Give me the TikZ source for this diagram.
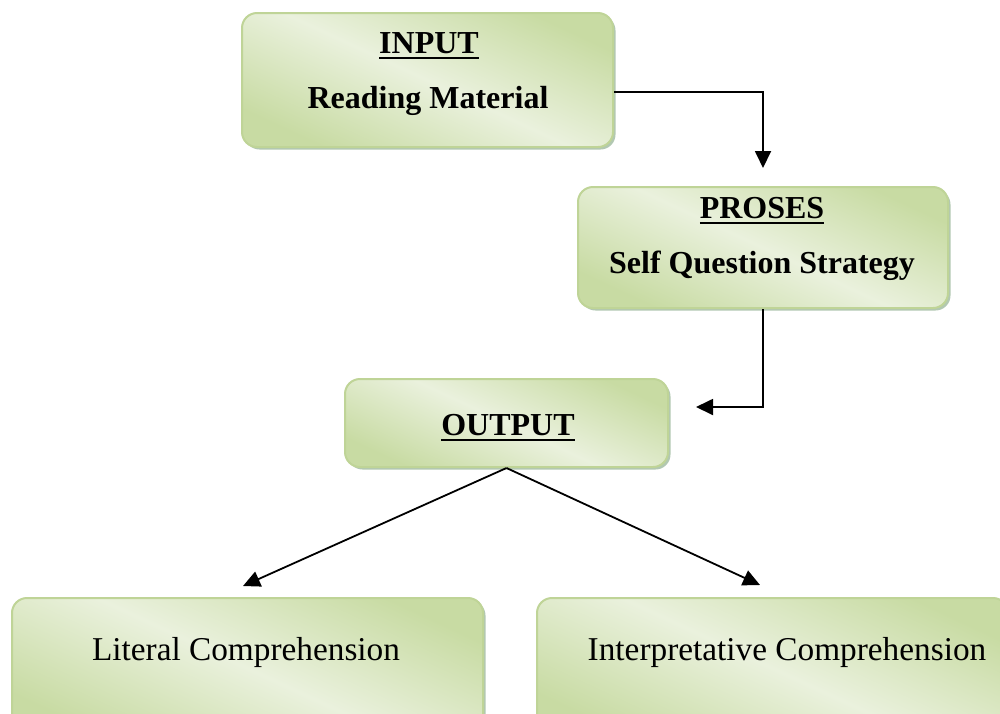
\documentclass[tikz,border=0pt]{standalone}
\usepackage{fontspec}
\setmainfont{Liberation Serif}
\usetikzlibrary{arrows.meta,shadows}
\definecolor{gdark}{HTML}{C8DBA3}
\definecolor{glight}{HTML}{EAF1DD}
\definecolor{gborder}{HTML}{BFD497}
\newcommand\myul[1]{\setbox0\hbox{#1}\rlap{\rule[-6pt]{\wd0}{2.2pt}}\box0}
\begin{document}
\begin{tikzpicture}[x=1pt,y=-1pt,
  box/.style={draw=gborder, line width=2pt, rounded corners=15pt,
    left color=gdark, right color=gdark, middle color=glight, shading angle=-25,
    drop shadow={shadow xshift=2.5pt, shadow yshift=-2.5pt, fill=black!70!green, opacity=0.3},
    inner sep=0pt},
  title/.style={font=\fontsize{32}{38}\selectfont\bfseries, inner sep=0pt, anchor=base},
  plain/.style={font=\fontsize{33.3}{40}\selectfont, inner sep=0pt, anchor=base},
  arr/.style={line width=1.8pt, -{Triangle[length=17pt,width=16pt]}}]
\useasboundingbox (0,0) rectangle (1000,713);
\clip (0,0) rectangle (1000,713);
\fill[white] (0,0) rectangle (1000,713);

\node[box, minimum width=371pt, minimum height=134pt] (in) at (427.5,80) {};
\node[box, minimum width=370pt, minimum height=121pt] (pr) at (763,247.5) {};
\node[box, minimum width=323pt, minimum height=88pt] (out) at (506.5,423) {};
\node[box, minimum width=471pt, minimum height=140pt] (lit) at (247.5,668) {};
\node[box, minimum width=471pt, minimum height=140pt] (int) at (772.5,668) {};

\node[title] (tin) at (429,53) {\myul{INPUT}};
\node[title] (tin2) at (428,108) {Reading Material};
\node[title] (tpr) at (762,218) {\myul{PROSES}};
\node[title] (tpr2) at (762,273) {Self Question Strategy};
\node[title] (tout) at (508,435) {\myul{OUTPUT}};
\node[plain] (tlit) at (246,660) {Literal Comprehension};
\node[plain] (tint) at (787,660) {Interpretative Comprehension};

\coordinate (tl) at (243,586);
\coordinate (tr) at (760,585);

\draw[arr] ([yshift=-12pt]in.east) -| ([yshift=18pt]pr.north);
\draw[arr] (pr.south) |- ([xshift=27pt,yshift=16pt]out.east);
\draw[arr] (out.south) -- (tl);
\draw[arr] (out.south) -- (tr);
\end{tikzpicture}
\end{document}
